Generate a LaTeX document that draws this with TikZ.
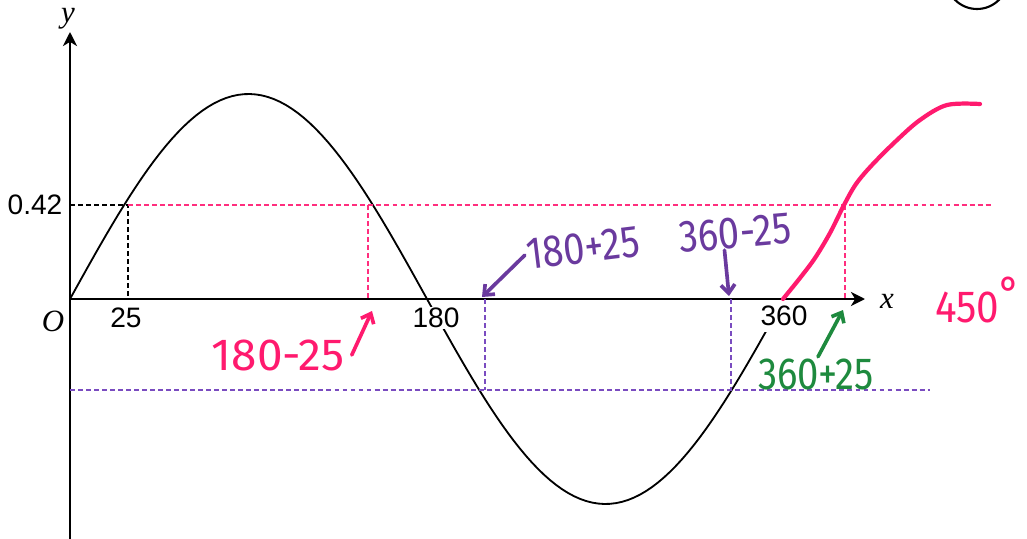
\documentclass[tikz,border=0pt]{standalone}
\usepackage{fontspec}
\setmainfont{Liberation Serif}
\newfontfamily\numfont{Liberation Sans}
\newfontfamily\handfont{Fira Sans}
\usetikzlibrary{arrows.meta,positioning}

\definecolor{inkpink}{HTML}{FF1A6E}
\definecolor{inkpurple}{HTML}{6A3A9E}
\definecolor{inkgreen}{HTML}{1E8A3E}
\definecolor{guidepink}{HTML}{FF2E7E}
\definecolor{guidepurple}{HTML}{7A4CC0}

\begin{document}
\begin{tikzpicture}[
  x=0.025cm, y=-0.025cm,
  axis/.style={line width=2pt, -{Stealth[length=10pt, width=10pt, inset=3pt]}},
  curve/.style={line width=1.3pt},
  guide/.style={line width=0.9pt, dash pattern=on 3.5pt off 2.2pt},
  tick/.style={font=\numfont\fontsize{20}{22}\selectfont, inner sep=1pt},
  axlabel/.style={font=\itshape\fontsize{22}{24}\selectfont, inner sep=0pt},
  hand/.style={font=\handfont\fontsize{32}{34}\selectfont, inner sep=1pt},
  pen/.style={line width=2.6pt, line cap=round, -{Straight Barb[length=6pt, width=10pt]}}
]
\useasboundingbox (0,0) rectangle (1027,539);

% axes
\coordinate (O) at (70,299);
\coordinate (ytop) at (70,32);
\coordinate (ybot) at (70,539);
\coordinate (xend) at (865,299);
\draw[axis] (ybot) -- (ytop);
\draw[axis] (O) -- (xend);
\node[axlabel] (ylab) at (68,19) {y};
\node[axlabel] (xlab) at (887,301) {x};
\node[axlabel] (olab) at (53,321) {O};

% y = sin x
\draw[curve] plot[domain=0:360, samples=120] ({70+\x*1.9833},{299-205*sin(\x)});

% guide lines
\draw[guide] (70,205) -- (128,205) -- (128,299);
\draw[guide, guidepink] (128,205) -- (993,205);
\draw[guide, guidepink] (368,205) -- (368,299);
\draw[guide, guidepink] (845,205) -- (845,299);
\draw[guide, guidepurple] (70,390) -- (930,390);
\draw[guide, guidepurple] (485,299) -- (485,390);
\draw[guide, guidepurple] (731,299) -- (731,390);

% tick labels
\node[tick] (v042) at (35,205) {0.42};
\node[tick] (t25) at (126,318) {25};
\node[tick, fill=white] (t180) at (436,318) {180};
\node[tick, fill=white, inner ysep=4pt] (t360) at (784,316) {360};

% next wave
\draw[inkpink, line width=3pt, line cap=round] plot[smooth, tension=0.55] coordinates {
  (783,299) (800,278) (815,258) (830,233) (844,205) (856,184)
  (872,165) (896,141) (920,120) (947,105) (980,104)};

% handwritten notes
\node[hand, text=inkpink] (n155) at (278,355) {\scalebox{1.02}[1]{180-25}};
\coordinate (a155) at (372,311);
\draw[pen, inkpink] ([xshift=0.15cm]n155.east) -- (a155);

\node[hand, text=inkpurple, rotate=7] (n205) at (583,248) {\scalebox{0.85}[1]{180+25}};
\coordinate (a205) at (482,297);
\draw[pen, inkpurple] (n205.west) -- (a205);

\node[hand, text=inkpurple, rotate=5] (n335) at (735,233) {\scalebox{0.85}[1]{360-25}};
\coordinate (a335) at (729,296);
\draw[pen, inkpurple] ([xshift=-0.3cm]n335.south) -- (a335);

\node[hand, text=inkgreen] (n385) at (816,374) {\scalebox{0.85}[1]{360+25}};
\coordinate (a385) at (843,310);
\draw[pen, inkgreen] ([xshift=0.05cm]n385.north) -- (a385);

\node[hand, text=inkpink] (n450) at (978,300) {\scalebox{0.9}[1]{450\raisebox{10pt}{°}}};

% circled mark (cut off)
\draw[line width=1.5pt] (977,-22) circle (31);

\end{tikzpicture}
\end{document}
